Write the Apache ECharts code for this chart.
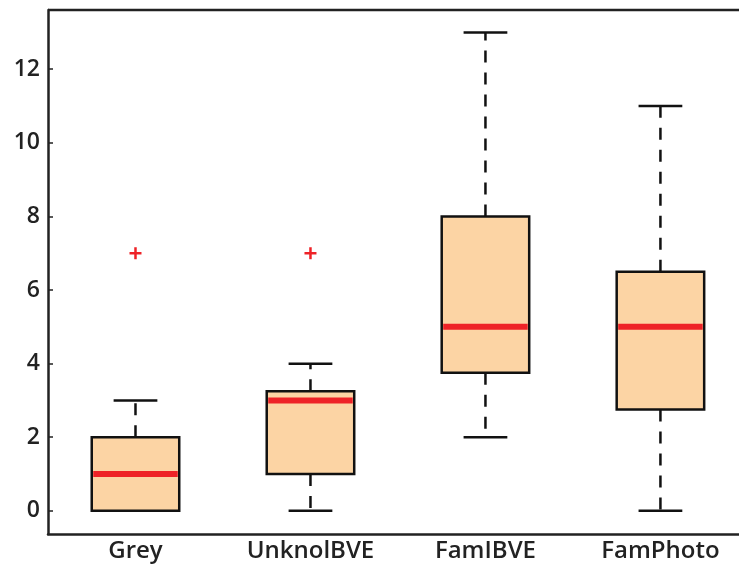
<!DOCTYPE html>
<html>
<head>
<meta charset="utf-8">
<script src="https://cdn.jsdelivr.net/npm/echarts@6/dist/echarts.min.js"></script>
<style>html,body{margin:0;padding:0;background:#fff;}#c{width:739px;height:567px;}</style>
</head>
<body>
<div id="c"></div>
<script>
const categories = ['Grey', 'UnknolBVE', 'FamIBVE', 'FamPhoto'];
const whiskerLow = [0, 0, 2, 0];
const q1 = [0, 1, 3.75, 2.75];
const median = [1, 3, 5, 5];
const q3 = [2, 3.25, 8, 6.5];
const whiskerHigh = [3, 4, 13, 11];
const outliers = [[0, 7], [1, 7]];
const yTicks = [0, 2, 4, 6, 8, 10, 12];
const xPositions = [0, 1, 2, 3];

const boxData = categories.map((c, i) => [i, whiskerLow[i], q1[i], median[i], q3[i], whiskerHigh[i]]);

const chart = echarts.init(document.getElementById('c'), null, {renderer: 'canvas'});
const FONT = '"Open Sans", sans-serif';

function renderBox(params, api) {
  const i = api.value(0);
  const bw = api.size([1, 0])[0] * 0.5;
  const cap = bw * 0.5;
  const pLo = api.coord([i, api.value(1)]);
  const pQ1 = api.coord([i, api.value(2)]);
  const pMed = api.coord([i, api.value(3)]);
  const pQ3 = api.coord([i, api.value(4)]);
  const pHi = api.coord([i, api.value(5)]);
  const x = pQ1[0];
  const dashStyle = {stroke: '#111', lineWidth: 2.5, lineDash: [12, 10]};
  const solid = {stroke: '#111', lineWidth: 2.5};
  return {
    type: 'group',
    children: [
      {type: 'line', shape: {x1: x, y1: pQ3[1], x2: x, y2: pHi[1]}, style: dashStyle},
      {type: 'line', shape: {x1: x, y1: pQ1[1], x2: x, y2: pLo[1]}, style: dashStyle},
      {type: 'line', shape: {x1: x - cap / 2, y1: pHi[1], x2: x + cap / 2, y2: pHi[1]}, style: solid},
      {type: 'line', shape: {x1: x - cap / 2, y1: pLo[1], x2: x + cap / 2, y2: pLo[1]}, style: solid},
      {type: 'rect', shape: {x: x - bw / 2, y: pQ3[1], width: bw, height: pQ1[1] - pQ3[1]},
        style: {fill: '#FCD4A4', stroke: '#111', lineWidth: 2.5}},
      {type: 'line', shape: {x1: x - bw / 2 + 1.5, y1: pMed[1], x2: x + bw / 2 - 1.5, y2: pMed[1]},
        style: {stroke: '#EE2227', lineWidth: 6}}
    ]
  };
}

function renderPlus(params, api) {
  const p = api.coord([api.value(0), api.value(1)]);
  const s = 6;
  const st = {stroke: '#EE2227', lineWidth: 2.5};
  return {
    type: 'group',
    children: [
      {type: 'line', shape: {x1: p[0] - s, y1: p[1], x2: p[0] + s, y2: p[1]}, style: st},
      {type: 'line', shape: {x1: p[0], y1: p[1] - s, x2: p[0], y2: p[1] + s}, style: st}
    ]
  };
}

chart.setOption({
  animation: false,
  backgroundColor: '#fff',
  grid: {left: 48, top: 10, right: 0, bottom: 33, containLabel: false},
  xAxis: {
    type: 'value',
    min: -0.5,
    max: 3.449,
    axisLine: {show: true, onZero: false, lineStyle: {color: '#222', width: 2.5}},
    axisTick: {show: false},
    axisLabel: {
      customValues: xPositions,
      formatter: v => categories[Math.round(v)] || '',
      color: '#222', fontFamily: FONT, fontWeight: 600, fontSize: 24, margin: 5
    },
    splitLine: {show: false}
  },
  yAxis: {
    type: 'value',
    min: -0.63,
    max: 13.61,
    axisLine: {show: true, onZero: false, lineStyle: {color: '#222', width: 2.5}},
    axisTick: {show: true, inside: true, length: 5, customValues: yTicks, lineStyle: {color: '#222', width: 1.5}},
    axisLabel: {customValues: yTicks, color: '#222', fontFamily: FONT, fontWeight: 600, fontSize: 23, margin: 8},
    splitLine: {show: false}
  },
  graphic: [{
    type: 'line', shape: {x1: 48, y1: 10, x2: 739, y2: 10}, style: {stroke: '#222', lineWidth: 2.5}, z: 100
  }],
  series: [
    {type: 'custom', renderItem: renderBox, data: boxData, encode: {x: 0, y: [1, 2, 3, 4, 5]}, clip: false},
    {type: 'custom', renderItem: renderPlus, data: outliers, encode: {x: 0, y: 1}}
  ]
});
</script>
</body>
</html>
